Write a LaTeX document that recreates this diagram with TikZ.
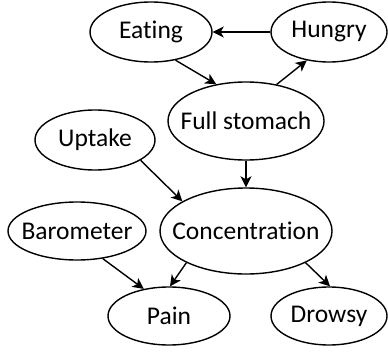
\documentclass[tikz,border=0pt]{standalone}
\usepackage{fontspec}
\setmainfont[Ligatures={NoCommon}]{Carlito}
\usetikzlibrary{shapes.geometric,arrows.meta}
\begin{document}
\begin{tikzpicture}[x=1pt,y=-1pt,
  var/.style={ellipse,draw,line width=1.4pt,inner sep=0pt},
  varlabel/.style={font=\fontsize{25.5}{30}\selectfont,inner sep=0pt},
  link/.style={line width=1.4pt,-{Stealth[length=11pt,width=11pt,inset=3pt]}}]
\useasboundingbox (0,0) rectangle (388,356);
% variables: the ellipse outline, its name set at its centre
\node[var,minimum width=122pt,minimum height=60pt,label={[varlabel]center:Eating}]        (eat)  at (151,32)  {};
\node[var,minimum width=116pt,minimum height=60pt,label={[varlabel]center:Hungry}]        (hung) at (329,32)  {};
\node[var,minimum width=156pt,minimum height=78pt,label={[varlabel]center:Full stomach}]  (full) at (246,121) {};
\node[var,minimum width=120pt,minimum height=60pt,label={[varlabel]center:Uptake}]        (up)   at (95,140)  {};
\node[var,minimum width=172pt,minimum height=86pt,label={[varlabel]center:Concentration}] (conc) at (246,231) {};
\node[var,minimum width=138pt,minimum height=58pt,label={[varlabel]center:Barometer}]     (baro) at (77,231)  {};
\node[var,minimum width=122pt,minimum height=58pt,label={[varlabel]center:Pain}]          (pain) at (169,316) {};
\node[var,minimum width=116pt,minimum height=58pt,label={[varlabel]center:Drowsy}]        (drow) at (329,316) {};
% dependencies
\draw[link] (hung.west) -- (eat.east);
\draw[link] (eat.-49) -- (full.129);
\draw[link] (full.50) -- (hung.232);
\draw[link] (up.-24) -- (conc.155);
\draw[link] (full.south) -- (conc.north);
\draw[link] (baro.-47) -- (pain.133);
\draw[link] (conc.208) -- (pain.88);
\draw[link] (conc.-28) -- (drow.88);
\end{tikzpicture}
\end{document}
